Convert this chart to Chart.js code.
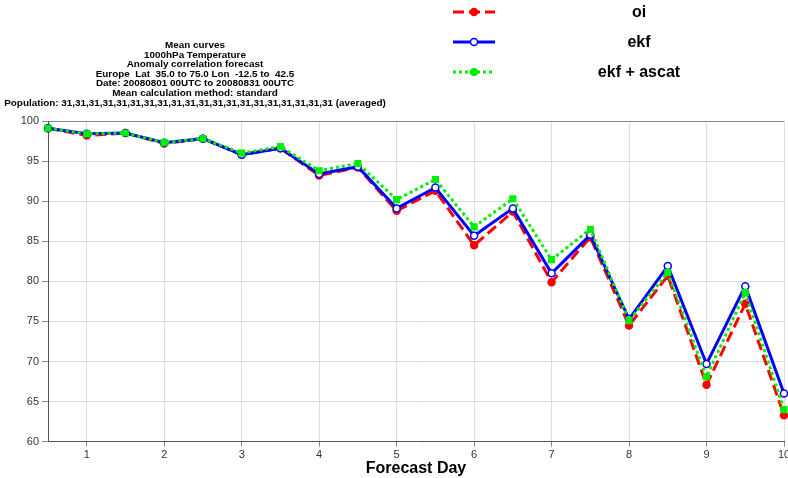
<!DOCTYPE html>
<html>
<head>
  <title>Mean curves - Anomaly correlation</title>
  <script src="https://cdn.jsdelivr.net/npm/chart.js"></script>
  <style>
    html, body { margin: 0; padding: 0; background: #fff; overflow: hidden; }
    #wrap { position: relative; width: 800px; height: 478px; }
  </style>
</head>
<body>
  <div id="wrap"><canvas id="acChart" width="800" height="478"></canvas></div>
  <script>
    // forecast days (x) and mean anomaly correlation per experiment
    const days = [0.5, 1, 1.5, 2, 2.5, 3, 3.5, 4, 4.5, 5, 5.5, 6, 6.5, 7, 7.5, 8, 8.5, 9, 9.5, 10];
    const oi = [99.1, 98.2, 98.5, 97.2, 97.8, 95.8, 96.6, 93.2, 94.2, 88.8, 91.3, 84.5, 88.7, 79.9, 85.5, 74.5, 80.7, 67.1, 77.2, 63.3];
    const ekf = [99.1, 98.4, 98.5, 97.3, 97.8, 95.8, 96.6, 93.4, 94.3, 89.1, 91.7, 85.7, 89.1, 81.0, 85.8, 75.3, 81.9, 69.7, 79.4, 66.0];
    const ekfAscat = [99.1, 98.4, 98.5, 97.3, 97.8, 96.0, 96.8, 93.8, 94.7, 90.2, 92.7, 86.8, 90.3, 82.7, 86.5, 75.1, 81.1, 68.1, 78.6, 64.0];
    const yTicks = [60, 65, 70, 75, 80, 85, 90, 95, 100];

    const titleLines = [
      'Mean curves',
      '1000hPa Temperature',
      'Anomaly correlation forecast',
      'Europe  Lat  35.0 to 75.0 Lon  -12.5 to  42.5',
      'Date: 20080801 00UTC to 20080831 00UTC',
      'Mean calculation method: standard',
      'Population: 31,31,31,31,31,31,31,31,31,31,31,31,31,31,31,31,31,31,31,31 (averaged)'
    ];

    const FONT = "'Liberation Sans', Arial, Helvetica, sans-serif";

    function pts(arr) {
      return arr.map((v, i) => ({ x: days[i], y: v }));
    }

    const series = [
      { label: 'oi', data: oi, color: '#ff0000', dash: [11, 5], point: 'circle', fill: '#ff0000', order: 3 },
      { label: 'ekf', data: ekf, color: '#0000ff', dash: [], point: 'circle', fill: '#ffffff', order: 2 },
      { label: 'ekf + ascat', data: ekfAscat, color: '#00ee00', dash: [3, 3], point: 'rect', fill: '#00ee00', order: 1 }
    ];

    // title block top-left, legend top-right
    const decorations = {
      id: 'decorations',
      afterDraw(chart) {
        const ctx = chart.ctx;
        ctx.save();
        ctx.fillStyle = '#000';
        ctx.textAlign = 'center';
        ctx.textBaseline = 'middle';
        ctx.font = 'bold 9.9px ' + FONT;
        titleLines.forEach((t, i) => ctx.fillText(t, 195, 45.5 + i * 9.55));

        const legendY = [12, 42, 72];
        series.forEach((s, i) => {
          const y = legendY[i];
          ctx.strokeStyle = s.color;
          ctx.lineWidth = 3;
          ctx.setLineDash(s.dash);
          ctx.beginPath();
          ctx.moveTo(453, y);
          ctx.lineTo(495, y);
          ctx.stroke();
          ctx.setLineDash([]);
          ctx.fillStyle = s.fill;
          ctx.lineWidth = 1.5;
          ctx.beginPath();
          ctx.arc(474, y, 3.5, 0, Math.PI * 2);
          ctx.fill();
          ctx.stroke();
          ctx.fillStyle = '#000';
          ctx.font = 'bold 16px ' + FONT;
          ctx.fillText(s.label, 639, y + 1);
        });
        ctx.restore();
      }
    };

    new Chart(document.getElementById('acChart'), {
      type: 'line',
      data: {
        datasets: series.map(s => ({
          label: s.label,
          data: pts(s.data),
          borderColor: s.color,
          backgroundColor: s.fill,
          borderDash: s.dash,
          borderWidth: 3,
          pointStyle: s.point,
          pointRadius: s.point === 'rect' ? 4 : 3.5,
          pointBorderColor: s.color,
          pointBackgroundColor: s.fill,
          pointBorderWidth: 1.5,
          tension: 0,
          fill: false,
          clip: false,
          order: s.order
        }))
      },
      options: {
        responsive: false,
        animation: false,
        devicePixelRatio: 1,
        layout: { padding: { top: 121, right: 16, left: 0, bottom: 0 } },
        plugins: {
          legend: { display: false },
          tooltip: { enabled: false }
        },
        scales: {
          x: {
            type: 'linear',
            min: 0.5,
            max: 10,
            afterBuildTicks(scale) {
              scale.ticks = scale.ticks.filter(t => Number.isInteger(t.value));
            },
            afterFit(scale) { scale.height = 36.3; },
            ticks: { stepSize: 1, color: '#333', padding: 2, font: { family: FONT, size: 11 } },
            grid: { color: '#dddddd', tickColor: '#888', tickLength: 5 },
            border: { color: '#555' },
            title: {
              display: true,
              text: 'Forecast Day',
              color: '#000',
              padding: { top: 0, bottom: 0 },
              font: { family: FONT, size: 16, weight: 'bold' }
            }
          },
          y: {
            min: 60,
            max: 100,
            afterBuildTicks(scale) {
              scale.ticks = yTicks.map(v => ({ value: v }));
            },
            afterFit(scale) { scale.width = 48; },
            ticks: { color: '#333', padding: 3, font: { family: FONT, size: 11 } },
            grid: {
              color: c => (c.tick && c.tick.value === 100 ? '#888' : '#dddddd'),
              tickColor: '#888',
              tickLength: 6
            },
            border: { color: '#555' }
          }
        }
      },
      plugins: [decorations]
    });
  </script>
</body>
</html>
